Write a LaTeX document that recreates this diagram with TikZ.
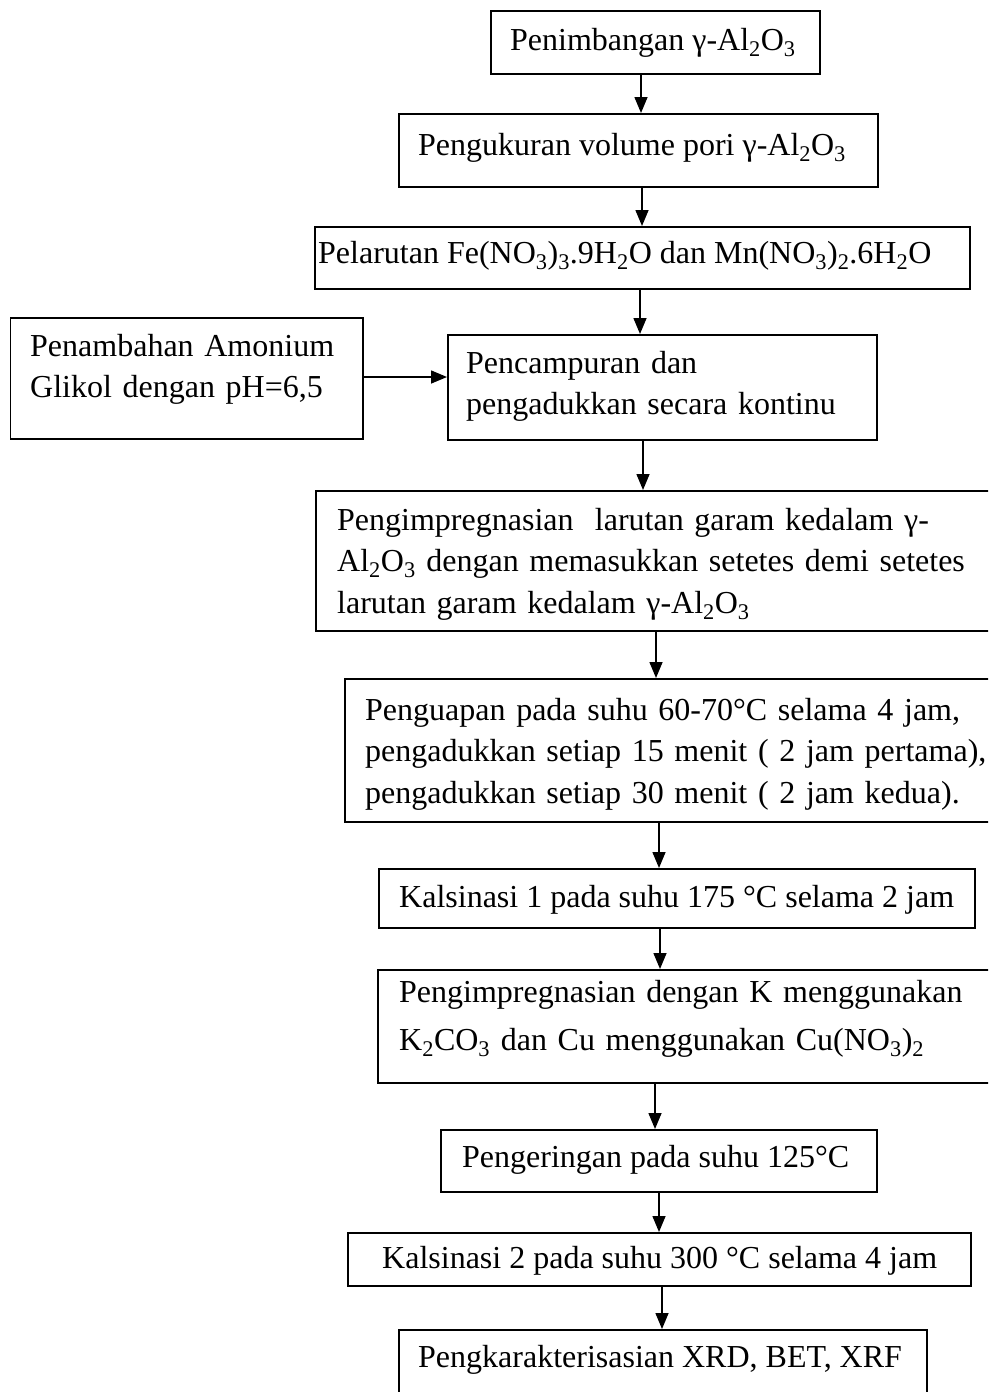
\documentclass[tikz,border=0pt]{standalone}
\usepackage{fontspec}
\setmainfont{Liberation Serif}
\usetikzlibrary{arrows.meta}
\newcommand{\sbs}[1]{\textsubscript{#1}}
\newcommand{\jline}[2]{\makebox[#1][s]{#2}}
\begin{document}
\begin{tikzpicture}[x=1pt,y=-1pt,
  box/.style={draw, line width=1.9pt, inner sep=0pt, anchor=north west},
  txt/.style={inner sep=0pt, anchor=base west, align=left,
    font=\fontsize{32}{41.5}\selectfont},
  arr/.style={line width=1.5pt, -{Triangle[length=16pt,width=13pt]}}]
\useasboundingbox (0,0) rectangle (988,1392);
\clip (0,0) rectangle (988,1392);

% boxes
\node[box, minimum width=329pt, minimum height=63pt] (b1) at (490,10) {};
\node[box, minimum width=479pt, minimum height=73pt] (b2) at (398,113) {};
\node[box, minimum width=655pt, minimum height=62pt] (b3) at (314,226) {};
\node[box, minimum width=352.5pt, minimum height=121pt] (bL) at (9.5,317) {};
\node[box, minimum width=429pt, minimum height=105pt] (bM) at (447,334) {};
\node[box, minimum width=690pt, minimum height=140pt] (bI) at (315,490) {};
\node[box, minimum width=670pt, minimum height=143pt] (bP) at (344,678) {};
\node[box, minimum width=596pt, minimum height=59pt] (bK1) at (378,868) {};
\node[box, minimum width=630pt, minimum height=113pt] (bK) at (377,969) {};
\node[box, minimum width=436pt, minimum height=62pt] (bD) at (440,1129) {};
\node[box, minimum width=623pt, minimum height=53pt] (bK2) at (347,1232) {};
\node[box, minimum width=528pt, minimum height=110pt] (bF) at (398,1329) {};

% texts
\node[txt] (t1) at (510,50) {Penimbangan γ-Al\sbs{2}O\sbs{3}};
\node[txt] (t2) at (418,155) {Pengukuran volume pori γ-Al\sbs{2}O\sbs{3}};
\node[txt] (t3) at (318,263) {Pelarutan Fe(NO\sbs{3})\sbs{3}.9H\sbs{2}O dan Mn(NO\sbs{3})\sbs{2}.6H\sbs{2}O};
\node[txt, text width=325pt] (tL) at (30,356) {Penambahan Amonium\\Glikol dengan pH=6,5};
\node[txt, text width=405pt] (tM) at (466,373) {Pencampuran dan\\pengadukkan secara kontinu};
\node[txt, text width=635pt] (tI) at (337,530)
  {\jline{635pt}{Pengimpregnasian \ larutan garam kedalam γ-}\\
   \jline{635pt}{Al\sbs{2}O\sbs{3} dengan memasukkan setetes demi setetes}\\
   larutan garam kedalam γ-Al\sbs{2}O\sbs{3}};
\node[txt, text width=618pt] (tP) at (365,720)
  {\jline{618pt}{Penguapan pada suhu 60-70°C selama 4 jam,}\\
   \jline{618pt}{pengadukkan setiap 15 menit ( 2 jam pertama),}\\
   pengadukkan setiap 30 menit ( 2 jam kedua).};
\node[txt] (tK1) at (399,907) {Kalsinasi 1 pada suhu 175 °C selama 2 jam};
\node[txt, text width=578pt, font=\fontsize{32}{48}\selectfont] (tK) at (399,1002)
  {\jline{578pt}{Pengimpregnasian dengan K menggunakan}\\
   K\sbs{2}CO\sbs{3} dan Cu menggunakan Cu(NO\sbs{3})\sbs{2}};
\node[txt] (tD) at (462,1167) {Pengeringan pada suhu 125°C};
\begin{scope}
  \clip (347,1232) rectangle (970,1275);
  \node[txt] (tK2) at (382,1268) {Kalsinasi 2 pada suhu 300 °C selama 4 jam};
\end{scope}
\node[txt] (tF) at (418,1367) {Pengkarakterisasian XRD, BET, XRF};

% connectors
\draw[arr] (b1.south -| 641,0) -- (b2.north -| 641,0);
\draw[arr] (b2.south -| 642,0) -- (b3.north -| 642,0);
\draw[arr] (b3.south -| 640,0) -- (bM.north -| 640,0);
\draw[arr] (bL.east |- 0,377) -- (bM.west |- 0,377);
\draw[arr] (bM.south -| 643,0) -- (bI.north -| 643,0);
\draw[arr] (bI.south -| 656,0) -- (bP.north -| 656,0);
\draw[arr] (bP.south -| 659,0) -- (bK1.north -| 659,0);
\draw[arr] (bK1.south -| 660,0) -- (bK.north -| 660,0);
\draw[arr] (bK.south -| 655,0) -- (bD.north -| 655,0);
\draw[arr] (bD.south -| 659,0) -- (bK2.north -| 659,0);
\draw[arr] (bK2.south -| 662,0) -- (bF.north -| 662,0);
\end{tikzpicture}
\end{document}
